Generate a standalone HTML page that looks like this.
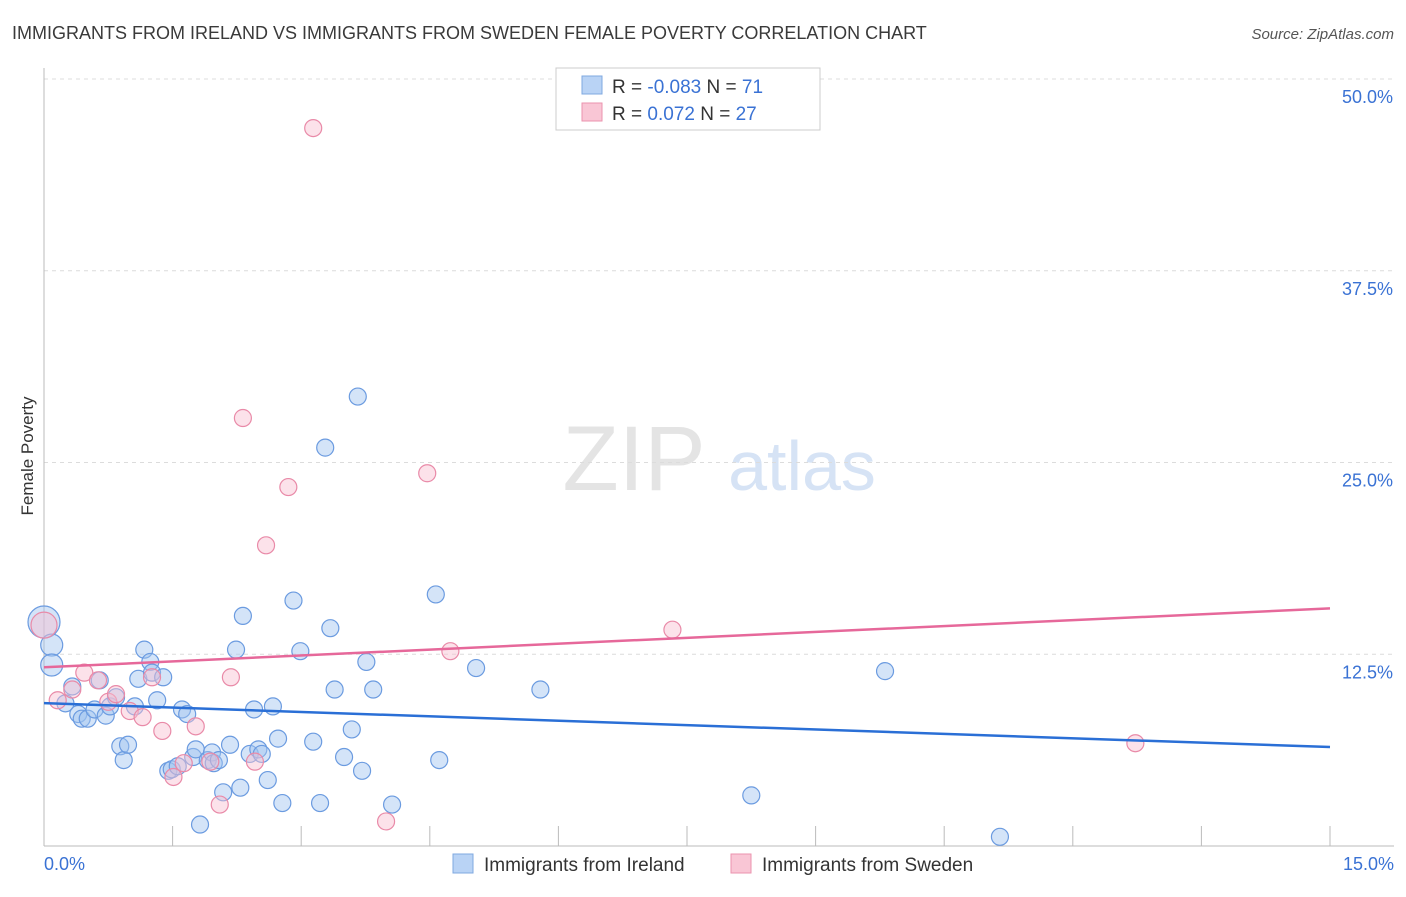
<!DOCTYPE html>
<html><head><meta charset="utf-8"><style>
body{margin:0;background:#fff;font-family:"Liberation Sans",sans-serif;}
svg text{font-family:"Liberation Sans",sans-serif;}
</style></head><body>
<svg id="chart" width="1406" height="892" xmlns="http://www.w3.org/2000/svg">
<text x="12" y="39" font-size="18" fill="#3a3a3a">IMMIGRANTS FROM IRELAND VS IMMIGRANTS FROM SWEDEN FEMALE POVERTY CORRELATION CHART</text>
<text x="1394" y="39" font-size="15" fill="#555" font-style="italic" text-anchor="end">Source: ZipAtlas.com</text>
<g>
<text x="634" y="490" font-size="92" fill="#e4e4e4" font-family="Liberation Serif" text-anchor="middle">ZIP</text>
<text x="802" y="490" font-size="70" fill="#d6e3f5" text-anchor="middle">atlas</text>
</g>
<g id="grid"></g>
<g id="axes"></g>
<g id="points"></g>
<g id="lines"></g>
<text transform="translate(33,456) rotate(-90)" font-size="17" fill="#333" text-anchor="middle">Female Poverty</text>
<g>
<rect x="556" y="68" width="264" height="62" fill="#fff" stroke="#ccc"/>
<rect x="582" y="76" width="20" height="18" fill="#b9d3f5" stroke="#7fa8e0"/>
<rect x="582" y="103" width="20" height="18" fill="#f9c6d5" stroke="#eb93ae"/>
<text x="612" y="93" font-size="19" fill="#333">R = <tspan fill="#3a72d4">-0.083</tspan>   N = <tspan fill="#3a72d4">71</tspan></text>
<text x="612" y="120" font-size="19" fill="#333">R =  <tspan fill="#3a72d4"> 0.072</tspan>   N = <tspan fill="#3a72d4">27</tspan></text>
</g>
<g>
<rect x="453" y="854" width="20" height="19" fill="#b9d3f5" stroke="#7fa8e0"/>
<text x="484" y="871" font-size="19" fill="#333">Immigrants from Ireland</text>
<rect x="731" y="854" width="20" height="19" fill="#f9c6d5" stroke="#eb93ae"/>
<text x="762" y="871" font-size="19" fill="#333">Immigrants from Sweden</text>
</g>
</svg>
<script>
const yTicks=[12.5,25,37.5,50];
const yTickLabels=["12.5%","25.0%","37.5%","50.0%"];
const xTicks=[0,1.5,3,4.5,6,7.5,9,10.5,12,13.5,15];
const irelandX=[0,0.09,0.09,0.25,0.33,0.4,0.44,0.51,0.59,0.65,0.72,0.77,0.84,0.89,0.93,0.98,1.06,1.1,1.17,1.24,1.26,1.32,1.39,1.45,1.49,1.56,1.61,1.67,1.74,1.77,1.82,1.91,1.96,1.98,2.04,2.09,2.17,2.24,2.29,2.32,2.40,2.45,2.50,2.54,2.61,2.67,2.73,2.78,2.91,2.99,3.14,3.22,3.28,3.34,3.39,3.5,3.59,3.66,3.71,3.76,3.84,4.06,4.57,4.61,5.04,5.79,8.25,9.81,11.15];
const irelandY=[14.6,13.1,11.8,9.3,10.4,8.6,8.3,8.3,8.9,10.8,8.5,9.1,9.7,6.5,5.6,6.6,9.1,10.9,12.8,12.0,11.3,9.5,11.0,4.9,5.0,5.2,8.9,8.6,5.8,6.3,1.4,5.6,6.1,5.4,5.6,3.5,6.6,12.8,3.8,15.0,6.0,8.9,6.3,6.0,4.3,9.1,7.0,2.8,16.0,12.7,6.8,2.8,25.97,14.2,10.2,5.8,7.6,29.3,4.9,12.0,10.2,2.7,16.4,5.6,11.6,10.2,3.3,11.4,0.6];
const swedenX=[0,0.16,0.33,0.47,0.63,0.75,0.84,1.0,1.15,1.26,1.38,1.51,1.63,1.77,1.94,2.05,2.18,2.32,2.46,2.59,2.85,3.14,3.99,4.47,4.74,7.33,12.73];
const swedenY=[14.4,9.5,10.2,11.3,10.8,9.4,9.9,8.8,8.4,11.0,7.5,4.5,5.4,7.8,5.5,2.7,11.0,27.9,5.5,19.6,23.4,46.8,1.6,24.3,12.7,14.1,6.7];
const irelandBig=[true,false,false];
const trendX=[0,15];
const irelandTrend=[9.31,6.45];
const swedenTrend=[11.65,15.49];
const NS="http://www.w3.org/2000/svg";
const X=v=>44+v*(1286/15), Y=v=>846-v*(767/50);
function mk(tag,attrs,parent){const e=document.createElementNS(NS,tag);for(const k in attrs)e.setAttribute(k,attrs[k]);document.getElementById(parent).appendChild(e);return e;}
yTicks.forEach((t,i)=>{
 const l=mk('line',{x1:44,x2:1394,y1:Y(t),y2:Y(t),stroke:'#dcdcdc','stroke-dasharray':'4,4'},'grid');
 
 
 const tx=mk('text',{x:1393,y:Y(t)+24,'font-size':18,fill:'#3a72d4','text-anchor':'end'},'grid');
 tx.textContent=yTickLabels[i];
 
 
});
const ax=mk('line',{x1:44,x2:1394,y1:846,y2:846,stroke:'#bbb'},'axes');


const ay=mk('line',{x1:44,x2:44,y1:68,y2:846,stroke:'#bbb'},'axes');


xTicks.forEach(t=>{const l=mk('line',{x1:X(t),x2:X(t),y1:826,y2:846,stroke:'#bbb'},'axes');
 
 });
const x0=mk('text',{x:44,y:870,'font-size':18,fill:'#3a72d4'},'axes');x0.textContent='0.0%';


const x1=mk('text',{x:1394,y:870,'font-size':18,fill:'#3a72d4','text-anchor':'end'},'axes');x1.textContent='15.0%';


irelandX.forEach((v,i)=>{const c=mk('circle',{cx:X(v),cy:Y(irelandY[i]),r:i===0?16:(i<3?11:8.5),fill:'rgba(160,195,240,0.45)',stroke:'#6b9be0','stroke-width':1.2},'points');
 
 });
swedenX.forEach((v,i)=>{const c=mk('circle',{cx:X(v),cy:Y(swedenY[i]),r:i===0?13:8.5,fill:'rgba(248,190,208,0.45)',stroke:'#e98aa8','stroke-width':1.2},'points');
 
 });
const tl1=mk('line',{x1:X(trendX[0]),x2:X(trendX[1]),y1:Y(irelandTrend[0]),y2:Y(irelandTrend[1]),stroke:'#2a6fd6','stroke-width':2.5},'lines');


const tl2=mk('line',{x1:X(trendX[0]),x2:X(trendX[1]),y1:Y(swedenTrend[0]),y2:Y(swedenTrend[1]),stroke:'#e6689a','stroke-width':2.5},'lines');


</script>
</body></html>
